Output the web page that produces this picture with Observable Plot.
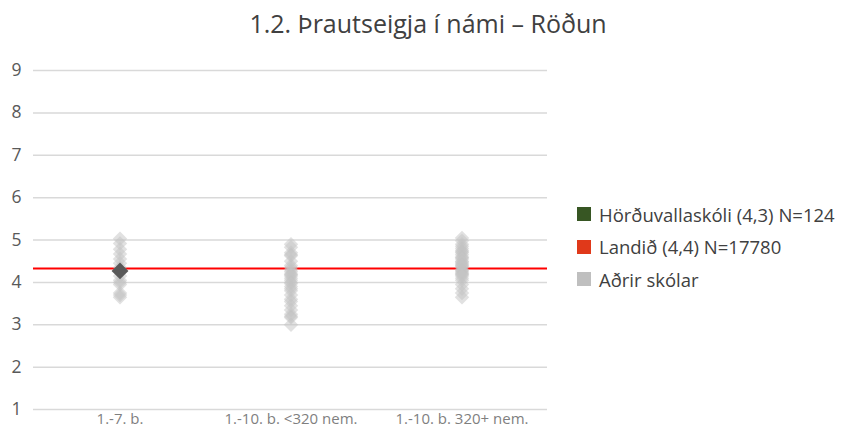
<!DOCTYPE html>
<html>
<head>
<meta charset="utf-8">
<script src="https://cdn.jsdelivr.net/npm/d3@7"></script>
<script src="https://cdn.jsdelivr.net/npm/@observablehq/plot@0.6"></script>
<style>
  body { margin: 0; background: #fff; font-family: "Open Sans", sans-serif; }
  #wrap { position: relative; width: 844px; height: 430px; overflow: hidden; }
  #title { position: absolute; left: 0; top: 6px; width: 856px; text-align: center; font-size: 25px; color: #404040; }
  #chart { position: absolute; left: 0; top: 45px; }
  #legend { position: absolute; left: 577px; top: 198px; font-size: 18.5px; color: #404040; }
  .li { display: flex; align-items: center; height: 32.5px; }
  .sw { width: 14px; height: 14px; margin-right: 8px; }
</style>
</head>
<body>
<div id="wrap">
  <div id="title">1.2. Þrautseigja í námi – Röðun</div>
  <div id="chart"></div>
  <div id="legend"></div>
</div>
<script>
const categories = ["1.-7. b.", "1.-10. b. <320 nem.", "1.-10. b. 320+ nem."];
const otherSchools1 = [5.03, 4.92, 4.78, 4.67, 4.55, 4.45, 4.35, 4.15, 4.05, 4.0, 3.95, 3.75, 3.7, 3.65];
const otherSchools2 = [4.9, 4.83, 4.7, 4.65, 4.63, 4.5, 4.4, 4.35, 4.3, 4.25, 4.2, 4.18, 4.15, 4.1, 4.05, 4.0, 3.97, 3.9, 3.85, 3.8, 3.7, 3.6, 3.55, 3.45, 3.35, 3.25, 3.2, 3.17, 3.0];
const otherSchools3 = [5.05, 4.98, 4.9, 4.85, 4.8, 4.75, 4.72, 4.7, 4.65, 4.6, 4.58, 4.55, 4.5, 4.48, 4.45, 4.42, 4.4, 4.38, 4.35, 4.3, 4.28, 4.25, 4.22, 4.2, 4.18, 4.15, 4.1, 4.05, 3.95, 3.85, 3.75, 3.65];
const schoolCategory = "1.-7. b.";
const schoolValue = 4.27;
const nationalValue = 4.33;
const yTicks = [1, 2, 3, 4, 5, 6, 7, 8, 9];
const legendLabels = ["Hörðuvallaskóli (4,3) N=124", "Landið (4,4) N=17780", "Aðrir skólar"];
const legendColors = ["#375623", "#e0391a", "#bfbfbf"];

const others = [];
[otherSchools1, otherSchools2, otherSchools3].forEach((arr, i) => arr.forEach(v => others.push({cat: categories[i], v})));

const chart = Plot.plot({
  width: 844,
  height: 385,
  marginTop: 25,
  marginBottom: 21,
  marginLeft: 33,
  marginRight: 297,
  style: {fontFamily: "'Open Sans', sans-serif", background: "transparent"},
  x: {type: "band", domain: categories, padding: 0, label: null},
  y: {domain: [1, 9], label: null},
  marks: [
    Plot.ruleY(yTicks, {stroke: "#d9d9d9", strokeWidth: 1.5}),
    Plot.ruleY([nationalValue], {stroke: "#ff0000", strokeWidth: 2}),
    Plot.dot(others, {x: "cat", y: "v", symbol: "diamond2", r: 6.5, fill: "#c4c4c4", fillOpacity: 0.5, stroke: "none"}),
    Plot.dot([{cat: schoolCategory, v: schoolValue}], {x: "cat", y: "v", symbol: "diamond2", r: 7.6, fill: "#595959", stroke: "none"}),
    Plot.axisX({tickSize: 0, tickPadding: 4, fontSize: 15, color: "#7f7f7f", label: null}),
    Plot.axisY({ticks: yTicks, tickSize: 0, tickPadding: 12, fontSize: 17.5, color: "#595959", label: null})
  ]
});
document.getElementById("chart").appendChild(chart);

const leg = document.getElementById("legend");
legendLabels.forEach((t, i) => {
  const d = document.createElement("div");
  d.className = "li";
  d.innerHTML = `<span class="sw" style="background:${legendColors[i]}"></span><span>${t}</span>`;
  leg.appendChild(d);
});
</script>
</body>
</html>
